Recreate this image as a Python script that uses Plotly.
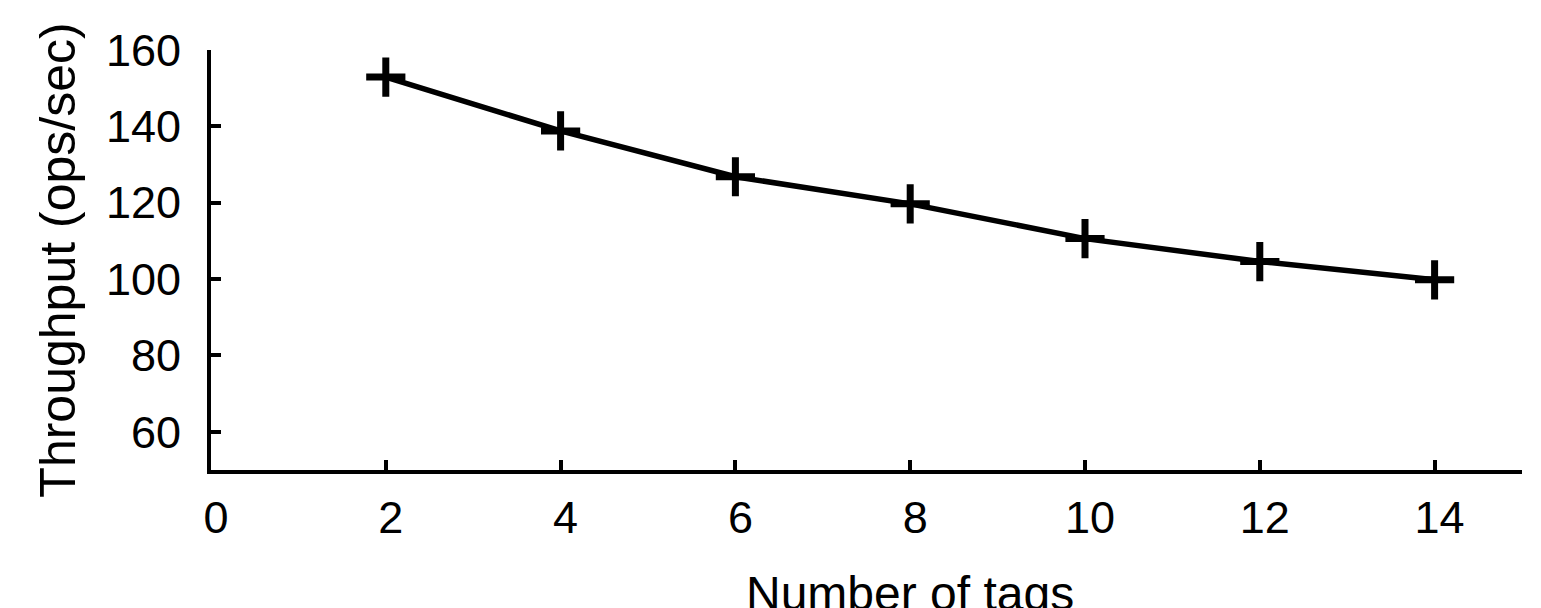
import plotly.graph_objects as go

tags = [2, 4, 6, 8, 10, 12, 14]
throughput = [152.9, 138.8, 126.8, 119.7, 110.6, 104.6, 99.8]
x_ticks = [0, 2, 4, 6, 8, 10, 12, 14]
y_ticks = [60, 80, 100, 120, 140, 160]

FONT = "Liberation Sans, Arial, Helvetica, sans-serif"

fig = go.Figure()
fig.add_trace(go.Scatter(
    x=tags, y=throughput, mode="lines+markers",
    line=dict(color="black", width=5.5),
    marker=dict(symbol="cross-thin", size=28, color="black",
                line=dict(color="black", width=7)),
    showlegend=False,
))

fig.update_layout(
    width=1541, height=608,
    margin=dict(l=203, r=27, t=42, b=146),
    paper_bgcolor="white", plot_bgcolor="white",
    font=dict(family=FONT, size=45, color="black"),
    annotations=[dict(
        text="Number of tags", xref="paper", yref="paper",
        x=0.5332, y=0, xanchor="center", yanchor="top", yshift=-95,
        showarrow=False, font=dict(size=48, family=FONT, color="black"),
    )],
)
fig.update_xaxes(
    range=[0, 15], tickvals=x_ticks, ticktext=[str(v) for v in x_ticks],
    automargin=False,
    showgrid=False, zeroline=False, showline=True, linecolor="black", linewidth=4,
    ticks="inside", ticklen=10, tickwidth=4, tickcolor="black",
    ticklabelstandoff=5, ticklabelshift=5,
)
fig.update_yaxes(
    range=[50, 160], tickvals=y_ticks, ticktext=[str(v) for v in y_ticks],
    automargin=False,
    showgrid=False, zeroline=False, showline=True, linecolor="black", linewidth=4,
    ticks="inside", ticklen=10, tickwidth=4, tickcolor="black",
    ticklabelstandoff=17,
    title=dict(text="Throughput (ops/sec)", standoff=15, font=dict(size=50)),
)

fig.write_html("out.html")
